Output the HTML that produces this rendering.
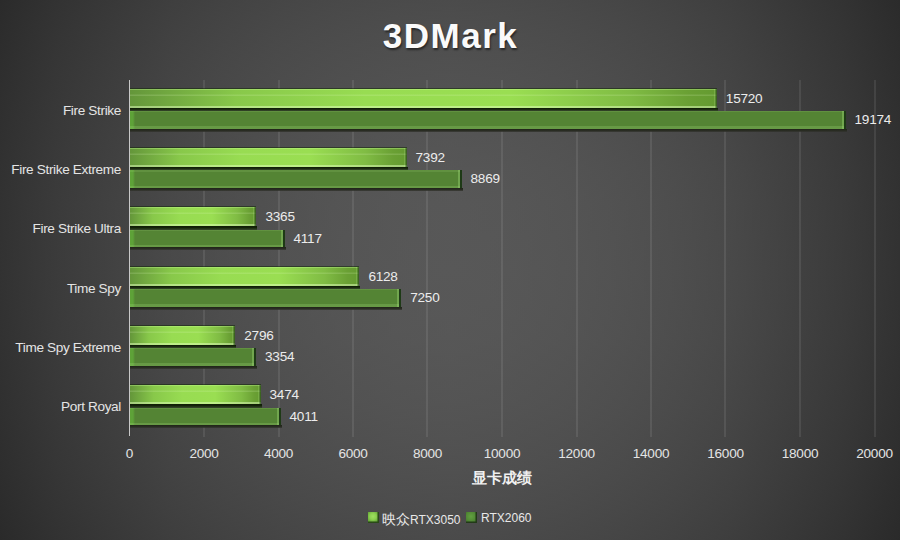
<!DOCTYPE html>
<html><head><meta charset="utf-8"><style>
html,body{margin:0;padding:0;}
body{width:900px;height:540px;overflow:hidden;position:relative;font-family:"Liberation Sans",sans-serif;
background:linear-gradient(90deg,rgb(50,50,50) 0.00%,rgb(59,59,59) 6.25%,rgb(66,66,66) 12.50%,rgb(73,73,73) 18.75%,rgb(78,78,78) 25.00%,rgb(82,82,82) 31.25%,rgb(85,85,85) 37.50%,rgb(87,87,87) 43.75%,rgb(88,88,88) 50.00%,rgb(87,87,87) 56.25%,rgb(85,85,85) 62.50%,rgb(82,82,82) 68.75%,rgb(78,78,78) 75.00%,rgb(73,73,73) 81.25%,rgb(66,66,66) 87.50%,rgb(59,59,59) 93.75%,rgb(50,50,50) 100.00%),linear-gradient(180deg,rgb(218,218,218) 0.00%,rgb(227,227,227) 6.25%,rgb(234,234,234) 12.50%,rgb(240,240,240) 18.75%,rgb(245,245,245) 25.00%,rgb(250,250,250) 31.25%,rgb(253,253,253) 37.50%,rgb(254,254,254) 43.75%,rgb(255,255,255) 50.00%,rgb(254,254,254) 56.25%,rgb(252,252,252) 62.50%,rgb(248,248,248) 68.75%,rgb(244,244,244) 75.00%,rgb(238,238,238) 81.25%,rgb(232,232,232) 87.50%,rgb(224,224,224) 93.75%,rgb(215,215,215) 100.00%);background-blend-mode:multiply;}
.title{position:absolute;left:0;width:900px;top:15.5px;text-align:center;font-size:35px;font-weight:bold;color:#fafafa;letter-spacing:1.5px;text-indent:1px;text-shadow:1px 2px 2px rgba(0,0,0,.5);}
.grid{position:absolute;top:80px;height:357px;width:2px;background:rgba(255,255,255,.085);}
.axis{position:absolute;left:129px;top:80px;height:356px;width:1px;background:#c8c8c8;}
.tick{position:absolute;top:445.5px;width:80px;text-align:center;font-size:13.6px;letter-spacing:-0.25px;color:#e4e4e4;}
.cat{position:absolute;left:0;width:121px;text-align:right;font-size:13.6px;letter-spacing:-0.35px;color:#e4e4e4;white-space:nowrap;}
.b1{position:absolute;left:130px;height:19px;box-sizing:border-box;
background:linear-gradient(90deg,#64963a 0%,#88c84a 18%,#98dc52 40%,#9ade52 65%,#80bc44 85%,#6aa034 95%,#649a30 100%);}
.b1 .hl{position:absolute;left:0;right:0;top:0;bottom:0;
background:linear-gradient(180deg,rgba(200,255,150,.35) 0,rgba(200,255,150,.35) 1px,rgba(255,255,255,0) 1.5px,rgba(255,255,255,0) 5px,rgba(230,255,200,.16) 6px,rgba(230,255,200,.16) 7px,rgba(255,255,255,0) 7px,rgba(255,255,255,0) 16.5px,rgba(225,255,190,.5) 17px,rgba(225,255,190,.5) 19px);
box-shadow:inset -1.5px 0 0 rgba(20,50,10,.6), inset -3px 0 0 rgba(200,255,150,.18), 0 -1px 0 rgba(20,40,10,.55);}
.s1{position:absolute;left:130px;height:3.5px;background:linear-gradient(180deg,#0e1c06 0,#142408 40%,#3a4a30 100%);}
.b2{position:absolute;left:130px;height:17.5px;background:linear-gradient(180deg,rgba(190,240,150,.12) 0,rgba(190,240,150,.12) 1.5px,rgba(0,0,0,0) 1.5px,rgba(0,0,0,0) 15.5px,rgba(170,230,130,.22) 15.5px,rgba(170,230,130,.22) 17.5px),linear-gradient(90deg,#5ea238 0,#5ea238 3px,#548434 5px,#548434 100%);
box-shadow:inset -2px 0 0 #1e3a16, inset -4px 0 0 rgba(170,230,130,.35);}
.s2{position:absolute;left:130px;height:3px;background:linear-gradient(180deg,#202418 0,#2a2d24 60%,rgba(50,50,45,.6) 100%);}
.lbl{position:absolute;font-size:13.6px;letter-spacing:-0.25px;color:#ececec;white-space:nowrap;}
.xt{position:absolute;left:0;width:900px;top:468.5px;text-align:center;padding-left:104px;box-sizing:border-box;font-size:14.6px;font-weight:bold;color:#f0f0f0;}
.leg{position:absolute;top:511px;font-size:12px;color:#e8e8e8;white-space:nowrap;}
.leg b{font-weight:normal;font-size:13.5px;}
.sq{position:absolute;width:11px;height:11px;box-sizing:border-box;}
</style></head><body>
<div class="title">3DMark</div>
<div class="grid" style="left:203px"></div>
<div class="grid" style="left:278px"></div>
<div class="grid" style="left:352px"></div>
<div class="grid" style="left:426px"></div>
<div class="grid" style="left:501px"></div>
<div class="grid" style="left:576px"></div>
<div class="grid" style="left:650px"></div>
<div class="grid" style="left:724px"></div>
<div class="grid" style="left:799px"></div>
<div class="grid" style="left:874px"></div>
<div class="tick" style="left:89.50px">0</div>
<div class="tick" style="left:164.00px">2000</div>
<div class="tick" style="left:238.50px">4000</div>
<div class="tick" style="left:313.00px">6000</div>
<div class="tick" style="left:387.50px">8000</div>
<div class="tick" style="left:462.00px">10000</div>
<div class="tick" style="left:536.50px">12000</div>
<div class="tick" style="left:611.00px">14000</div>
<div class="tick" style="left:685.50px">16000</div>
<div class="tick" style="left:760.00px">18000</div>
<div class="tick" style="left:834.50px">20000</div>
<div class="cat" style="top:102.67px">Fire Strike</div>
<div class="s1" style="top:107.50px;width:587.83px"></div>
<div class="s2" style="top:128.50px;width:716.52px"></div>
<div class="b1" style="top:88.50px;width:586.83px"><i class="hl"></i></div>
<div class="b2" style="top:111.00px;width:715.52px"></div>
<div class="lbl" style="top:90.50px;left:725.83px">15720</div>
<div class="lbl" style="top:112.00px;left:854.52px">19174</div>
<div class="cat" style="top:162.00px">Fire Strike Extreme</div>
<div class="s1" style="top:166.83px;width:277.53px"></div>
<div class="s2" style="top:187.83px;width:332.56px"></div>
<div class="b1" style="top:147.83px;width:276.53px"><i class="hl"></i></div>
<div class="b2" style="top:170.33px;width:331.56px"></div>
<div class="lbl" style="top:149.83px;left:415.53px">7392</div>
<div class="lbl" style="top:171.33px;left:470.56px">8869</div>
<div class="cat" style="top:221.33px">Fire Strike Ultra</div>
<div class="s1" style="top:226.17px;width:127.48px"></div>
<div class="s2" style="top:247.17px;width:155.50px"></div>
<div class="b1" style="top:207.17px;width:126.48px"><i class="hl"></i></div>
<div class="b2" style="top:229.67px;width:154.50px"></div>
<div class="lbl" style="top:209.17px;left:265.48px">3365</div>
<div class="lbl" style="top:230.67px;left:293.50px">4117</div>
<div class="cat" style="top:280.67px">Time Spy</div>
<div class="s1" style="top:285.50px;width:230.43px"></div>
<div class="s2" style="top:306.50px;width:272.24px"></div>
<div class="b1" style="top:266.50px;width:229.43px"><i class="hl"></i></div>
<div class="b2" style="top:289.00px;width:271.24px"></div>
<div class="lbl" style="top:268.50px;left:368.43px">6128</div>
<div class="lbl" style="top:290.00px;left:410.24px">7250</div>
<div class="cat" style="top:340.00px">Time Spy Extreme</div>
<div class="s1" style="top:344.83px;width:106.28px"></div>
<div class="s2" style="top:365.83px;width:127.07px"></div>
<div class="b1" style="top:325.83px;width:105.28px"><i class="hl"></i></div>
<div class="b2" style="top:348.33px;width:126.07px"></div>
<div class="lbl" style="top:327.83px;left:244.28px">2796</div>
<div class="lbl" style="top:349.33px;left:265.07px">3354</div>
<div class="cat" style="top:399.33px">Port Royal</div>
<div class="s1" style="top:404.17px;width:131.54px"></div>
<div class="s2" style="top:425.17px;width:151.55px"></div>
<div class="b1" style="top:385.17px;width:130.54px"><i class="hl"></i></div>
<div class="b2" style="top:407.67px;width:150.55px"></div>
<div class="lbl" style="top:387.17px;left:269.54px">3474</div>
<div class="lbl" style="top:408.67px;left:289.55px">4011</div>
<div class="axis"></div>
<div class="xt">显卡成绩</div>
<div class="sq" style="left:368px;top:512px;background:radial-gradient(circle at 45% 40%,#9ee060 0,#8cd050 35%,#5a9a30 80%);box-shadow:inset -1.5px -1.5px 0 #2a4a18"></div>
<div class="leg" style="left:382px"><b>映众</b>RTX3050</div>
<div class="sq" style="left:466px;top:512px;background:radial-gradient(circle at 45% 40%,#62a040 0,#528a35 50%,#3e6e28 90%);box-shadow:inset -1.5px -1.5px 0 #223a18"></div>
<div class="leg" style="left:481px">RTX2060</div>
</body></html>
